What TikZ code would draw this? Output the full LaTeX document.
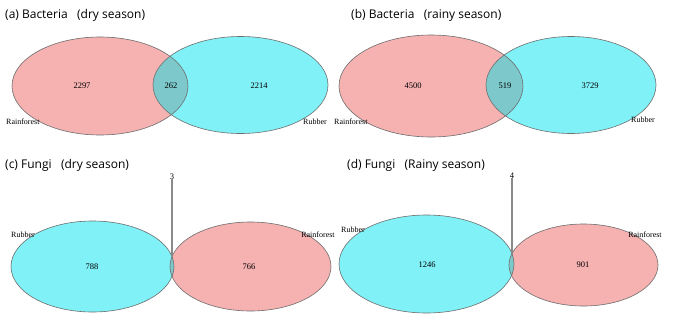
\documentclass[tikz,border=0pt]{standalone}
\usepackage{fontspec}
\setmainfont{Liberation Serif}
\newfontfamily\titlefont{Open Sans}
\usetikzlibrary{shapes.geometric}
\definecolor{vpink}{HTML}{F6B1B1}
\definecolor{vcyan}{HTML}{80F1F7}
\definecolor{vover}{HTML}{7DC8CB}
\definecolor{vedge}{HTML}{6E6E6E}
\definecolor{vlead}{HTML}{8A8A8A}
\tikzset{
  paneltitle/.style={anchor=west, inner sep=0pt, font=\titlefont\fontsize{12}{14}\selectfont},
  countlbl/.style={inner sep=0pt, font=\fontsize{8.5}{10}\selectfont},
  setlbl/.style={inner sep=0pt, font=\fontsize{8}{10}\selectfont},
  vedgeline/.style={draw=vedge, line width=0.6pt},
  leader/.style={draw=vlead, line width=1.2pt}
}
\begin{document}
\begin{tikzpicture}[x=1pt,y=-1pt]
\useasboundingbox (0,0) rectangle (673,319);
\fill[white] (0,0) rectangle (673,319);

% ---------- (a) ----------
\node[paneltitle] (ta) at (5,15) {(a) Bacteria\ \ \ (dry season)};
\fill[vpink] (100,86) ellipse [x radius=88pt, y radius=49pt];
\fill[vcyan] (240.5,85) ellipse [x radius=87.5pt, y radius=48.5pt];
\begin{scope}
\clip (100,86) ellipse [x radius=88pt, y radius=49pt];
\fill[vover] (240.5,85) ellipse [x radius=87.5pt, y radius=48.5pt];
\end{scope}
\draw[vedgeline] (100,86) ellipse [x radius=88pt, y radius=49pt];
\draw[vedgeline] (240.5,85) ellipse [x radius=87.5pt, y radius=48.5pt];
\node[countlbl] (a1) at (82,86) {2297};
\node[countlbl] (a2) at (171,86) {262};
\node[countlbl] (a3) at (259,86) {2214};
\node[setlbl, anchor=west] (a4) at (6,122) {Rainforest};
\node[setlbl] (a5) at (315,122) {Rubber};

% ---------- (b) ----------
\node[paneltitle] (tb) at (351,15) {(b) Bacteria\ \ \ (rainy season)};
\fill[vpink] (431,86) ellipse [x radius=92pt, y radius=51pt];
\fill[vcyan] (571,85) ellipse [x radius=85pt, y radius=48.5pt];
\begin{scope}
\clip (431,86) ellipse [x radius=92pt, y radius=51pt];
\fill[vover] (571,85) ellipse [x radius=85pt, y radius=48.5pt];
\end{scope}
\draw[vedgeline] (431,86) ellipse [x radius=92pt, y radius=51pt];
\draw[vedgeline] (571,85) ellipse [x radius=85pt, y radius=48.5pt];
\node[countlbl] (b1) at (413,86) {4500};
\node[countlbl] (b2) at (505,86) {519};
\node[countlbl] (b3) at (590,86) {3729};
\node[setlbl, anchor=west] (b4) at (334,122) {Rainforest};
\node[setlbl] (b5) at (643,120) {Rubber};

% ---------- (c) ----------
\node[paneltitle] (tc) at (5,165) {(c) Fungi\ \ \ (dry season)};
\fill[vcyan] (92.5,266.5) ellipse [x radius=81.5pt, y radius=45.5pt];
\fill[vpink] (250.5,266.5) ellipse [x radius=80.5pt, y radius=44.5pt];
\begin{scope}
\clip (92.5,266.5) ellipse [x radius=81.5pt, y radius=45.5pt];
\fill[vover] (250.5,266.5) ellipse [x radius=80.5pt, y radius=44.5pt];
\end{scope}
\draw[vedgeline] (92.5,266.5) ellipse [x radius=81.5pt, y radius=45.5pt];
\draw[vedgeline] (250.5,266.5) ellipse [x radius=80.5pt, y radius=44.5pt];
\node[countlbl] (c1) at (92,267) {788};
\node[countlbl] (c2) at (249,267) {766};
\node[setlbl] (c3) at (23,235) {Rubber};
\node[setlbl] (c4) at (318,235) {Rainforest};
\node[countlbl] (c5) at (172,177) {3};
\coordinate (c6) at (172,255);
\draw[leader] (c5.south) ++(0,-1.5) -- (c6);

% ---------- (d) ----------
\node[paneltitle] (td) at (347,165) {(d) Fungi\ \ \ (Rainy season)};
\fill[vcyan] (426.5,264) ellipse [x radius=87.5pt, y radius=49pt];
\fill[vpink] (583.5,265) ellipse [x radius=74.5pt, y radius=41pt];
\begin{scope}
\clip (426.5,264) ellipse [x radius=87.5pt, y radius=49pt];
\fill[vover] (583.5,265) ellipse [x radius=74.5pt, y radius=41pt];
\end{scope}
\draw[vedgeline] (426.5,264) ellipse [x radius=87.5pt, y radius=49pt];
\draw[vedgeline] (583.5,265) ellipse [x radius=74.5pt, y radius=41pt];
\node[countlbl] (d1) at (427,265) {1246};
\node[countlbl] (d2) at (583,265) {901};
\node[setlbl] (d3) at (353,230) {Rubber};
\node[setlbl] (d4) at (645,235) {Rainforest};
\node[countlbl] (d5) at (512,176) {4};
\coordinate (d6) at (512,254);
\draw[leader] (d5.south) ++(0,-1.5) -- (d6);
\end{tikzpicture}
\end{document}
